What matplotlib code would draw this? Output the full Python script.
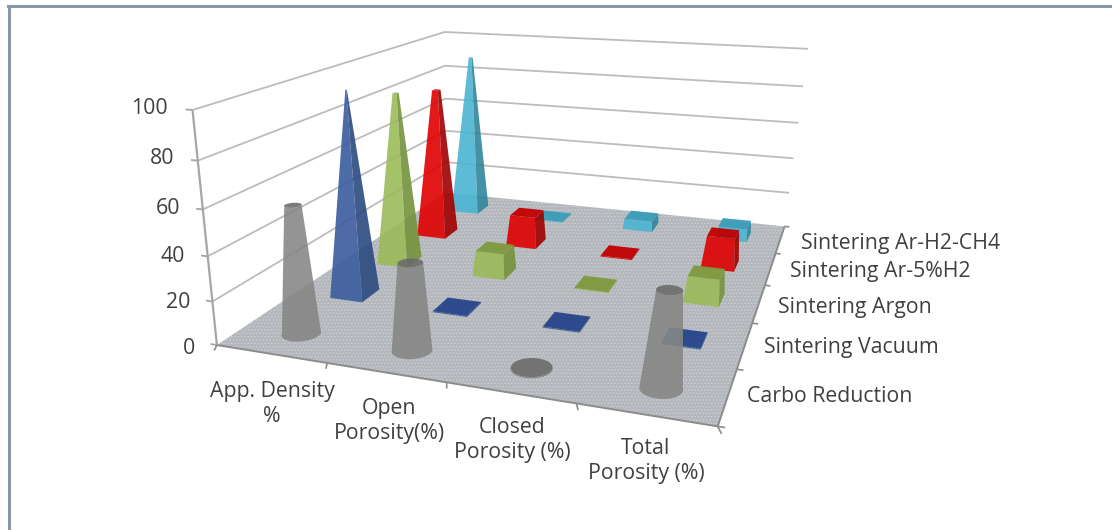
import numpy as np
import matplotlib
matplotlib.use("Agg")
import matplotlib.pyplot as plt
from matplotlib.lines import Line2D
from mpl_toolkits.mplot3d.art3d import Poly3DCollection, Line3DCollection

plt.rcParams['font.family'] = ['Open Sans', 'DejaVu Sans']
plt.rcParams['hatch.linewidth'] = 0.5

categories = ["App. Density\n%", "Open\nPorosity(%)", "Closed\nPorosity (%)", "Total\nPorosity (%)"]
series = ["Carbo Reduction", "Sintering Vacuum", "Sintering Argon", "Sintering Ar-5%H2", "Sintering Ar-H2-CH4"]
z_ticks = [0, 20, 40, 60, 80, 100]

carbo = [58, 39, 0.5, 41]
vacuum = [97, 0.5, 0.5, 0.5]
argon = [87, 13, 0.5, 13]
ar_h2 = [80, 17, 0.5, 17]
ar_ch4 = [90, 0.5, 6, 7]
values = [carbo, vacuum, argon, ar_h2, ar_ch4]

front_col = ['#858585', '#3A5C9E', '#9BBB59', '#E00000', '#4BB4D2']
side_col = ['#6E6E6E', '#2B4A80', '#76923C', '#A00000', '#31859C']
top_col = ['#6A6A6A', '#26458A', '#7E9A3E', '#C00000', '#3A9DB8']

# label anchors, pixels of the picture
z_label_pos = [(195, 348), (190, 303), (185, 257), (180, 208), (174, 159), (168, 108)]
cat_label_pos = [(272, 404), (389, 421), (512, 440), (646, 461)]
series_label_pos = [(747, 396), (764, 346), (778, 306), (790, 271), (801, 242)]


# camera fitted on the floor and wall corners of the picture, (x, y, z) -> pixel
def fit_camera():
    world = [(0, 0, 0), (4, 0, 0), (4, 5, 0), (0, 5, 0), (0, 0, 100), (0, 5, 100), (4, 5, 100)]
    pix = [(218, 348), (717, 425), (785, 228), (445, 190), (192, 108), (445, 34), (808, 48)]
    A = []
    b = []
    for (x, y, z), (u, v) in zip(world, pix):
        A.append([x, y, z, 1, 0, 0, 0, 0, -u*x, -u*y, -u*z])
        A.append([0, 0, 0, 0, x, y, z, 1, -v*x, -v*y, -v*z])
        b += [u, v]
    p = np.linalg.lstsq(np.array(A, float), np.array(b, float), rcond=None)[0]
    return np.array([p[0:4], p[4:8], [0, 1, 0, 0], [p[8], p[9], p[10], 1]])


M = fit_camera()

fig = plt.figure(figsize=(11.12, 5.30), dpi=100, facecolor='white')
ax = fig.add_axes([0, 0, 1, 1], projection='3d', computed_zorder=False)
ax.set_axis_off()
ax.set_autoscale_on(False)
ax.set_xlim(0, 4)
ax.set_ylim(0, 5)
ax.set_zlim(0, 100)
ax.set_xticks([])
ax.set_yticks([])
ax.set_zticks([])
ax.get_proj = lambda: M
ax.apply_aspect = lambda position=None: None
ax.viewLim.intervalx = (0, 1112)
ax.viewLim.intervaly = (530, 0)


def add_polys(polys, colors, alpha, z):
    col = Poly3DCollection(polys, facecolors=colors, edgecolors='none', linewidths=0, alpha=alpha, zorder=z)
    ax.add_collection3d(col, autolim=False)
    return col


def add_line(pts, color, lw, z):
    col = Line3DCollection([pts], colors=color, linewidths=lw, zorder=z)
    ax.add_collection3d(col, autolim=False)


# walls
wall = '#BCBCBC'
for t in z_ticks[1:]:
    add_line([(0, 0, t), (0, 5, t), (4, 5, t)], wall, 1.3, 1)

# floor
floor = Poly3DCollection([[(0, 0, 0), (4, 0, 0), (4, 5, 0), (0, 5, 0)]], facecolors='#B4B7BC',
                         edgecolors='#CED1D5', linewidths=0, hatch='.....', zorder=2)
ax.add_collection3d(floor, autolim=False)

edge = '#8C8C8C'
add_line([(0, 0, 0), (4, 0, 0), (4, 5, 0)], edge, 1.4, 3)
add_line([(0, 0, 0), (0, 0, 100)], '#A6A6A6', 1.6, 3)
for t in z_ticks:
    add_line([(0, 0, t), (-0.06, 0, t)], '#A6A6A6', 1.3, 3)
for i in range(5):
    add_line([(i, 0, 0), (i + 0.04, -0.1, 0)], edge, 1.2, 3)
for j in range(6):
    add_line([(4, j, 0), (4.05, j, 0)], edge, 1.2, 3)

dx = 0.16
dy = 0.18
n = 10
for j in range(4, -1, -1):
    for i in range(4):
        h = values[j][i]
        cx = i + 0.52
        cy = j + 0.46
        z = n + 10*(4-j) + i
        k = 1 - h / 100.0
        if j == 0:
            # cone for the first series, narrowing bands give the soft shading
            th = np.radians(np.linspace(-160, 20, 41))
            mid = np.radians(-70)
            for w, col, al in [(1, front_col[0], 0.88), (0.75, 'white', 0.04), (0.5, 'white', 0.04), (0.25, 'white', 0.04)]:
                if h < 2 and w < 1:
                    continue
                a = mid + (th - mid)*w
                low = [(cx+dx*np.cos(t), cy+dy*np.sin(t), 0) for t in a]
                upp = [(cx+k*dx*np.cos(t), cy+k*dy*np.sin(t), h) for t in a[::-1]]
                add_polys([low + upp], col, al, z + 0.1*w)
            th = np.radians(np.linspace(0, 360, 41))
            cap = [[(cx+k*dx*np.cos(a), cy+k*dy*np.sin(a), h) for a in th]]
            add_polys(cap, top_col[0], 0.88, z+0.5)
        else:
            x0, x1 = cx-dx, cx+dx
            y0, y1 = cy-dy, cy+dy
            tx0, tx1 = cx-k*dx, cx+k*dx
            ty0, ty1 = cy-k*dy, cy+k*dy
            front = [(x0, y0, 0), (x1, y0, 0), (tx1, ty0, h), (tx0, ty0, h)]
            right = [(x1, y0, 0), (x1, y1, 0), (tx1, ty1, h), (tx1, ty0, h)]
            top = [(tx0, ty0, h), (tx1, ty0, h), (tx1, ty1, h), (tx0, ty1, h)]
            add_polys([front], front_col[j], 0.9, z)
            add_polys([right], side_col[j], 0.9, z+0.2)
            add_polys([top], top_col[j], 0.95, z+0.4)

txt = '#404040'
fs = 15.3
for t, (px, py) in zip(z_ticks, z_label_pos):
    ax.text2D(px, py, str(t), ha='right', va='center', fontsize=fs, color=txt, zorder=200, transform=ax.transData)
for c, (px, py) in zip(categories, cat_label_pos):
    ax.text2D(px, py, c, ha='center', va='center', fontsize=fs, color=txt, zorder=200, linespacing=1.2, transform=ax.transData)
for s, (px, py) in zip(series, series_label_pos):
    ax.text2D(px, py + 1, s, ha='left', va='center', fontsize=fs, color=txt, zorder=200, transform=ax.transData)

# picture frame
fig.add_artist(Line2D([8/1112, 1], [1-6/530, 1-6/530], transform=fig.transFigure, color='#8B97A6', lw=2.2))
fig.add_artist(Line2D([9/1112, 9/1112], [0, 1-6/530], transform=fig.transFigure, color='#8B97A6', lw=2.2))

fig.savefig('out.png', dpi=100)
